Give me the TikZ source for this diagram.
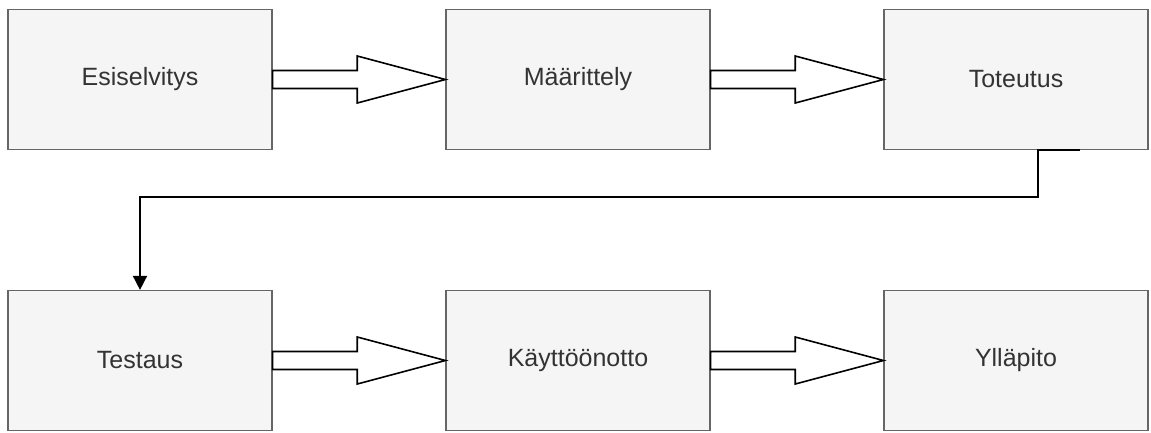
\documentclass[tikz,border=0pt]{standalone}
\usepackage{fontspec}
\setmainfont{Liberation Sans}
\usetikzlibrary{calc,arrows.meta}
\definecolor{boxfill}{HTML}{F5F5F5}
\definecolor{boxline}{HTML}{666666}
\definecolor{boxtext}{HTML}{333333}
\tikzset{
  phase/.style={draw=boxline, fill=boxfill, line width=1.2pt, text=boxtext,
    minimum width=264pt, minimum height=140pt, inner sep=0pt,
    font=\fontsize{25}{30}\selectfont},
  blockarrow/.style={draw=black, fill=white, line width=1.6pt, line join=miter},
  flow/.style={draw=black, line width=1.6pt, -{Triangle[length=14pt,width=14pt]}}
}
\newcommand{\blockarr}[3]{%
  \coordinate (#3) at ($(#1.east)!0.49!(#2.west)$);
  \draw[blockarrow] ([yshift=9pt]#1.east) -- ([yshift=9pt]#3) -- ([yshift=23.5pt]#3)
    -- (#2.west) -- ([yshift=-23.5pt]#3) -- ([yshift=-9pt]#3)
    -- ([yshift=-9pt]#1.east) -- cycle;}
\begin{document}
\begin{tikzpicture}[x=1pt,y=-1pt]
  \useasboundingbox[fill=white] (0,0) rectangle (1151,432);
  % upper row
  \node[phase] (esi) at (140,79.5) {Esiselvitys};
  \node[phase] (maa) at (578,79.5) {Määrittely};
  \node[phase] (tot) at (1016,79.5) {Toteutus};
  % lower row
  \node[phase] (tes) at (140,360.5) {Testaus};
  \node[phase] (kay) at (578,360.5) {Käyttöönotto};
  \node[phase] (yll) at (1016,360.5) {Ylläpito};
  % block arrows between phases
  \blockarr{esi}{maa}{h1}
  \blockarr{maa}{tot}{h2}
  \blockarr{tes}{kay}{h3}
  \blockarr{kay}{yll}{h4}
  % return line from the upper to the lower row
  \coordinate (start) at ([xshift=64pt]tot.south);
  \draw[flow] (start) -- ([xshift=22pt]tot.south) -- ++(0,47) -| (tes.north);
\end{tikzpicture}
\end{document}
